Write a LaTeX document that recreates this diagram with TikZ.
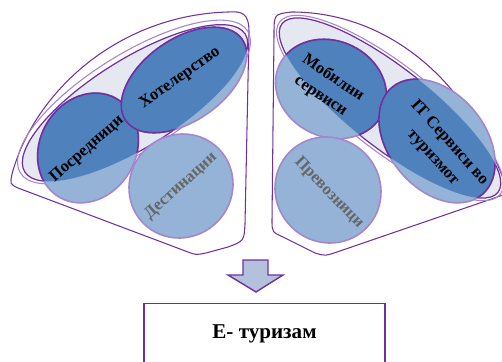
\documentclass[tikz,border=0pt]{standalone}
\usepackage{fontspec}
\setmainfont{Liberation Serif}
\usetikzlibrary{positioning}

\definecolor{darkblue}{HTML}{4F81BD}
\definecolor{lightblue}{HTML}{95B3D7}
\definecolor{capsulegrey}{HTML}{E6E8F1}
\definecolor{edge}{HTML}{7030A0}
\definecolor{softedge}{HTML}{A585CC}
\definecolor{arrowfill}{HTML}{B4C1DD}
\definecolor{greytext}{HTML}{666666}

\tikzset{
    wedge/.style={draw=edge, line width=0.6pt, fill=white},
    capsule/.style={draw=edge, line width=0.7pt, fill=capsulegrey},
    outline/.style={draw=softedge, line width=0.6pt},
    lightitem/.style={draw=softedge, line width=0.9pt, fill=lightblue},
    darkitem/.style={draw=edge, line width=0.9pt, fill=darkblue},
    itemtext/.style={font=\bfseries\fontsize{9.5}{12.5}\selectfont, align=center},
    resultbox/.style={draw=edge, line width=0.8pt, minimum width=4.82cm, minimum height=1.2cm,
        font=\bfseries\fontsize{12}{14}\selectfont},
}

\begin{document}
\begin{tikzpicture}[x=0.02cm, y=-0.02cm]
    \clip (0,0) rectangle (502,361);

    % left group
    \draw[wedge] (18,188) -- (188,252) .. controls (196,255) .. (206,253) -- (228,247)
        .. controls (244,241) .. (245,224) -- (249,32) .. controls (249,13) and (242,11) .. (228,12)
        .. controls (120,15) and (35,90) .. (12,174) .. controls (10,184) .. cycle;
    \draw[outline, rotate around={32:(134,102)}] (134,102) ellipse [x radius=134, y radius=48];
    \draw[capsule, rotate around={32:(135,103)}] (135,103) ellipse [x radius=130, y radius=44];
    \draw[lightitem, rotate around={60:(88,148)}] (88,148) ellipse [x radius=57, y radius=48];
    \draw[lightitem, rotate around={35:(184,80)}] (184,80) ellipse [x radius=71, y radius=41];
    \begin{scope}
        \clip[rotate around={32:(135,103)}] (135,103) ellipse [x radius=130, y radius=44];
        \draw[darkitem, rotate around={60:(88,148)}] (88,148) ellipse [x radius=57, y radius=48];
        \draw[darkitem, rotate around={35:(184,80)}] (184,80) ellipse [x radius=71, y radius=41];
    \end{scope}
    \draw[lightitem, rotate around={45:(181,186)}] (181,186) ellipse [x radius=53, y radius=51];

    \node[itemtext, rotate=41] (posrednici) at (87,149) {Посредници};
    \node[itemtext, rotate=35] (hotel) at (180,78) {Хотелерство};
    \node[itemtext, text=greytext, rotate=42] (destinacii) at (181,186) {Дестинации};

    % right group
    \draw[wedge] (274,35) .. controls (274,14) .. (292,12) .. controls (370,12) and (460,60) .. (506,186)
        -- (506,194) -- (337,252) .. controls (325,256) .. (315,253) -- (283,237)
        .. controls (272,232) .. (272,220) -- cycle;
    \draw[outline, rotate around={-38:(390,108)}] (390,108) ellipse [x radius=140, y radius=43];
    \draw[capsule, rotate around={-38:(390,108)}] (390,108) ellipse [x radius=137, y radius=40];
    \draw[lightitem, rotate around={-25:(331,89)}] (331,89) ellipse [x radius=57, y radius=48];
    \draw[lightitem, rotate around={-50:(437,141)}] (437,141) ellipse [x radius=70, y radius=48];
    \begin{scope}
        \clip[rotate around={-38:(390,108)}] (390,108) ellipse [x radius=137, y radius=40];
        \draw[darkitem, rotate around={-25:(331,89)}] (331,89) ellipse [x radius=57, y radius=48];
        \draw[darkitem, rotate around={-50:(437,141)}] (437,141) ellipse [x radius=70, y radius=48];
    \end{scope}
    \draw[lightitem, rotate around={-45:(328,190)}] (328,190) ellipse [x radius=54, y radius=52];

    \node[itemtext, rotate=-34] (mobilni) at (327,87) {Мобилни\\сервиси};
    \node[itemtext, rotate=-48] (itservisi) at (441,150) {IT Сервиси во\\туризмот};
    \node[itemtext, text=greytext, rotate=-46] (prevoznici) at (329,193) {Превозници};

    % arrow and result
    \draw[draw=edge, line width=0.8pt, fill=arrowfill] (243,260) -- (268,260) -- (268,275) -- (283,275)
        -- (256,292) -- (228,275) -- (243,275) -- cycle;
    \node[resultbox, anchor=north] (etourism) at (264.5,303) {Е- туризам};
\end{tikzpicture}
\end{document}
